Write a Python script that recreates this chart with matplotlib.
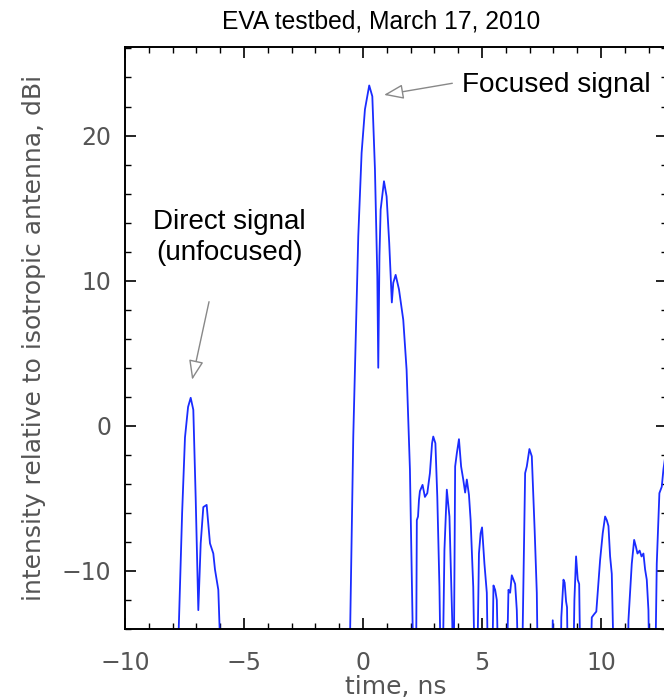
import matplotlib.pyplot as plt
from matplotlib.ticker import MultipleLocator

# time (ns) and intensity (dBi); -20 marks points below the plotted floor
time_ns = [-7.85, -7.6, -7.48, -7.35, -7.24, -7.13, -7.03, -6.92, -6.82, -6.71, -6.57, -6.43, -6.29, -6.22, -6.08, -5.9,
           -0.6, -0.41, -0.34, -0.2, -0.06, 0.08, 0.26, 0.39, 0.5, 0.6, 0.64, 0.69, 0.74, 0.88, 0.99, 1.10, 1.21, 1.27,
           1.37, 1.51, 1.69, 1.83, 1.97, 2.15,
           2.22, 2.26, 2.31, 2.35, 2.39, 2.5, 2.6, 2.7, 2.81, 2.9, 2.95, 3.04, 3.12, 3.21, 3.29,
           3.32, 3.42, 3.52, 3.63, 3.70, 3.75, 3.79,
           3.80, 3.87, 3.94, 4.03, 4.12, 4.21, 4.29, 4.36, 4.45, 4.52, 4.63, 4.72,
           4.77, 4.87, 4.94, 5.0, 5.10, 5.20, 5.28,
           5.40, 5.48, 5.55, 5.62, 5.72,
           6.0, 6.11, 6.18, 6.25, 6.32, 6.39, 6.46, 6.57,
           6.65, 6.81, 6.88, 6.99, 7.09, 7.21, 7.30, 7.37,
           7.92, 7.97, 8.03,
           8.28, 8.33, 8.42, 8.47, 8.53, 8.57, 8.63,
           8.80, 8.88, 8.95, 9.02, 9.08, 9.16,
           9.52, 9.61, 9.70, 9.80, 9.89, 9.96, 10.07, 10.17, 10.24, 10.31, 10.38, 10.45, 10.58,
           11.1, 11.15, 11.29, 11.39, 11.46, 11.53, 11.62, 11.70, 11.78, 11.85, 11.92, 11.99, 12.06,
           12.25, 12.34, 12.45, 12.55, 12.62, 12.75]
intensity = [-20, -6.0, -0.8, 1.3, 1.93, 1.1, -5.0, -12.7, -8.1, -5.6, -5.45, -8.1, -8.8, -9.9, -11.3, -20,
             -20, -0.74, 3.86, 13.06, 18.8, 21.8, 23.45, 22.7, 17.7, 10.3, 4.0, 11.7, 14.9, 16.85, 15.8, 12.6, 8.5, 9.85,
             10.4, 9.4, 7.3, 3.86, -3.0, -20,
             -20, -6.5, -6.25, -5.1, -4.5, -4.07, -4.9, -4.64, -3.26, -1.2, -0.74, -1.2, -4.9, -11.1, -20,
             -20, -8.55, -4.4, -6.25, -10.6, -13.6, -20,
             -20, -2.8, -1.9, -0.92, -2.8, -3.7, -4.6, -3.7, -4.76, -6.5, -11.1, -20,
             -20, -8.8, -7.4, -7.0, -9.5, -11.5, -20,
             -20, -11.0, -11.3, -12.0, -20,
             -20, -11.3, -11.5, -10.3, -10.6, -10.9, -12.7, -20,
             -20, -3.26, -2.8, -1.6, -2.1, -7.2, -11.5, -20,
             -20, -13.4, -20,
             -20, -13.2, -10.6, -10.8, -12.1, -12.5, -20,
             -20, -12.0, -9.0, -10.6, -10.9, -20,
             -20, -13.2, -13.0, -12.8, -10.85, -9.24, -7.4, -6.25, -6.5, -6.9, -9.0, -10.2, -20,
             -20, -13.4, -9.5, -7.86, -8.3, -8.8, -8.6, -9.0, -8.8, -9.9, -10.6, -12.7, -20,
             -20, -9.5, -4.64, -4.2, -3.0, -1.5]

plt.rcParams['font.family'] = ['Liberation Sans', 'DejaVu Sans']

fig = plt.figure(figsize=(6.64, 6.99), dpi=100)
ax = fig.add_axes([125 / 664, 70 / 699, 542 / 664, 582 / 699])

ax.plot(time_ns, intensity, color='#1a2cff', lw=1.3)

ax.set_xlim(-10, 12.77)
ax.set_ylim(-14.0, 26.1)
ax.xaxis.set_major_locator(MultipleLocator(5))
ax.xaxis.set_minor_locator(MultipleLocator(1))
ax.yaxis.set_major_locator(MultipleLocator(10))
ax.yaxis.set_minor_locator(MultipleLocator(2))
ax.tick_params(which='both', direction='in', top=True, right=True, labelcolor='#555555')
ax.tick_params(which='major', length=8, width=1.2)
ax.tick_params(which='minor', length=4, width=1.0)
ax.tick_params(axis='x', pad=16)
ax.tick_params(axis='y', pad=10)
for lab in ax.get_xticklabels() + ax.get_yticklabels():
    lab.set_family('DejaVu Sans')
    lab.set_fontsize(17)
for s in ax.spines.values():
    s.set_linewidth(1.4)

ax.set_xlabel('time, ns', fontsize=18, color='#555555', labelpad=0, family='DejaVu Sans')
ax.set_ylabel('intensity relative to isotropic antenna, dBi', fontsize=18, color='#555555', labelpad=11,
              family='DejaVu Sans')
fig.text(381 / 664, 1 - 22 / 699, 'EVA testbed, March 17, 2010', fontsize=17.7, ha='center', va='center')

arrow = dict(arrowstyle='-|>,head_length=1.2,head_width=0.45', fc='white', ec='#888888', lw=1.0, shrinkA=0, shrinkB=0)
ax.annotate('', xy=(0.88, 22.8), xytext=(3.75, 23.6), arrowprops=arrow)
ax.text(4.16, 23.45, 'Focused signal', fontsize=20.2, ha='left', va='center')
ax.annotate('', xy=(-7.18, 3.17), xytext=(-6.47, 8.55), arrowprops=arrow)
ax.text(-5.63, 12.97, 'Direct signal\n(unfocused)', fontsize=20, ha='center', va='center', linespacing=1.25)

fig.savefig('out.png', dpi=100)
